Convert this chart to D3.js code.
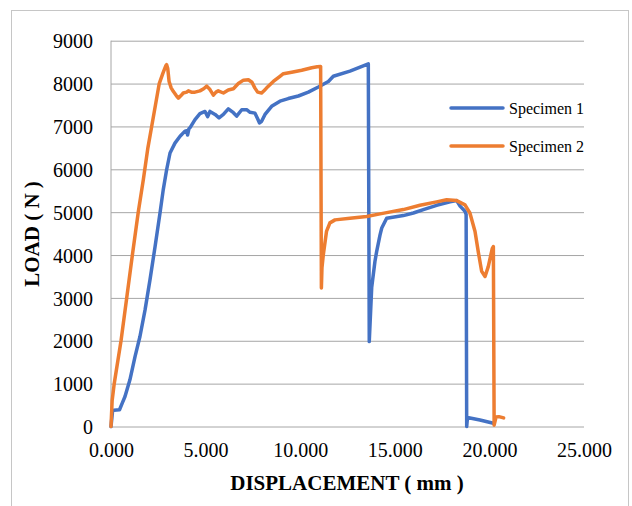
<!DOCTYPE html>
<html>
<head>
<meta charset="utf-8">
<script src="https://cdn.jsdelivr.net/npm/d3@7"></script>
<style>
  body { margin: 0; background: #fff; }
  text { font-family: "Liberation Serif", "Times New Roman", serif; fill: #000; }
</style>
</head>
<body>
<svg id="chart" width="632" height="506"></svg>
<script>
// tick values
let xTicks = [0, 5, 10, 15, 20, 25]
let yTicks = [0, 1000, 2000, 3000, 4000, 5000, 6000, 7000, 8000, 9000]

let seriesNames = ['Specimen 1', 'Specimen 2']
let seriesColors = ['#4472C4', '#ED7D31']

// Specimen 1 (blue)
let spec1Disp = [0, 0.08, 0.15, 0.45, 0.6, 0.74, 1.0, 1.27, 1.53, 1.8, 2.06, 2.33, 2.59, 2.76, 2.94, 3.12, 3.38, 3.65, 3.91, 4.0, 4.05, 4.12, 4.18, 4.44, 4.7, 4.97, 5.11, 5.23, 5.5, 5.71, 5.94, 6.2, 6.47, 6.64, 6.91, 7.17, 7.35, 7.61, 7.75, 7.85, 7.96, 8.14, 8.49, 8.93, 9.37, 9.9, 10.43, 10.96, 11.49, 11.75, 12.63, 13.6, 13.65, 13.78, 13.95, 14.04, 14.22, 14.31, 14.57, 15.45, 15.98, 16.51, 17.21, 17.92, 18.27, 18.45, 18.71, 18.77, 18.8, 18.84, 19.5, 20.21]
let spec1Load = [0, 350, 380, 390, 550, 700, 1090, 1630, 2100, 2720, 3420, 4200, 4980, 5520, 5990, 6380, 6610, 6770, 6890, 6900, 6800, 6950, 6970, 7160, 7300, 7350, 7230, 7350, 7280, 7200, 7280, 7410, 7320, 7240, 7390, 7390, 7330, 7310, 7180, 7080, 7120, 7280, 7470, 7590, 7650, 7710, 7800, 7920, 8050, 8170, 8290, 8460, 1980, 3250, 3850, 4080, 4470, 4630, 4860, 4920, 4980, 5060, 5160, 5240, 5270, 5140, 5020, 4950, 0, 210, 150, 75]

// Specimen 2 (orange)
let spec2Disp = [0, 0.06, 0.17, 0.53, 0.83, 1.13, 1.44, 1.71, 1.95, 2.15, 2.35, 2.55, 2.75, 2.9, 2.94, 3.0, 3.07, 3.18, 3.29, 3.45, 3.56, 3.7, 3.82, 4.0, 4.09, 4.25, 4.44, 4.7, 4.9, 5.06, 5.23, 5.41, 5.55, 5.67, 5.94, 6.2, 6.47, 6.73, 7.0, 7.26, 7.45, 7.6, 7.75, 7.96, 8.1, 8.23, 8.58, 8.93, 9.11, 9.55, 10.08, 10.61, 10.9, 11.08, 11.12, 11.15, 11.22, 11.39, 11.57, 11.84, 12.63, 13.51, 14.22, 14.57, 15.45, 16.33, 17.21, 17.74, 18.27, 18.71, 18.97, 19.24, 19.41, 19.59, 19.77, 19.94, 20.15, 20.21, 20.25, 20.35, 20.5, 20.75]
let spec2Load = [0, 600, 1000, 2000, 3000, 4000, 5000, 5760, 6500, 7000, 7500, 8000, 8250, 8420, 8440, 8350, 8050, 7900, 7820, 7720, 7660, 7720, 7780, 7800, 7830, 7800, 7800, 7830, 7880, 7940, 7860, 7730, 7800, 7830, 7780, 7850, 7880, 8000, 8080, 8090, 8030, 7900, 7800, 7780, 7840, 7900, 8050, 8170, 8230, 8265, 8310, 8370, 8390, 8400, 3230, 3700, 4000, 4550, 4750, 4820, 4860, 4900, 4960, 4990, 5060, 5160, 5240, 5290, 5270, 5170, 4980, 4550, 4080, 3620, 3500, 3730, 4150, 4200, 30, 220, 230, 200]

let series = [
  { name: seriesNames[0], color: seriesColors[0], pts: spec1Disp.map((d, i) => [d, spec1Load[i]]) },
  { name: seriesNames[1], color: seriesColors[1], pts: spec2Disp.map((d, i) => [d, spec2Load[i]]) }
]

// plot area
let margin = { top: 40.7, left: 111, right: 48, bottom: 79.5 },
    width = 632 - margin.left - margin.right,
    height = 506 - margin.top - margin.bottom

let svg = d3.select('svg#chart')

// outer chart border
svg.append('rect')
  .attr('x', 11.5).attr('y', 10.5)
  .attr('width', 617).attr('height', 520)
  .attr('fill', 'none')
  .attr('stroke', '#c6c6c6')
  .attr('stroke-width', 1)

let g = svg.append('g')
  .attr('transform', `translate(${margin.left}, ${margin.top})`)

let xScale = d3.scaleLinear().domain([0, 25]).range([0, width])
let yScale = d3.scaleLinear().domain([0, 9000]).range([height, 0])

// horizontal grid lines
g.append('g')
  .attr('class', 'grid')
  .call(d3.axisLeft(yScale).tickValues(yTicks).tickSize(-width).tickFormat(''))
  .call(a => a.select('.domain').remove())
  .selectAll('line')
  .attr('stroke', '#a6a6a6')
  .attr('stroke-width', 1)

// y axis line
g.append('line')
  .attr('x1', 0).attr('x2', 0)
  .attr('y1', 0).attr('y2', height)
  .attr('stroke', '#a6a6a6')

// y tick labels
g.append('g')
  .call(d3.axisLeft(yScale).tickValues(yTicks).tickSize(0).tickPadding(18).tickFormat(d3.format('d')))
  .call(a => a.select('.domain').remove())
  .selectAll('text')
  .attr('font-family', '"Liberation Serif", serif')
  .attr('font-size', 20)
  .attr('dy', '0.36em')

// x tick labels
g.append('g')
  .attr('transform', `translate(0, ${height})`)
  .call(d3.axisBottom(xScale).tickValues(xTicks).tickSize(0).tickPadding(16).tickFormat(d3.format('.3f')))
  .call(a => a.select('.domain').remove())
  .selectAll('text')
  .attr('font-family', '"Liberation Serif", serif')
  .attr('font-size', 20)

// the two load curves
let line = d3.line()
  .x(d => xScale(d[0]))
  .y(d => yScale(d[1]))

g.selectAll('path.series')
  .data(series)
  .enter()
  .append('path')
  .attr('class', 'series')
  .attr('d', d => line(d.pts))
  .attr('fill', 'none')
  .attr('stroke', d => d.color)
  .attr('stroke-width', 3.5)
  .attr('stroke-linejoin', 'round')
  .attr('stroke-linecap', 'round')

// legend
let legend = svg.selectAll('g.legend')
  .data(series)
  .enter()
  .append('g')
  .attr('class', 'legend')
  .attr('transform', (d, i) => `translate(451, ${108 + i * 38})`)

legend.append('line')
  .attr('x1', 0).attr('x2', 52)
  .attr('stroke', d => d.color)
  .attr('stroke-width', 3.5)
  .attr('stroke-linecap', 'round')

legend.append('text')
  .attr('x', 58)
  .attr('dy', '0.35em')
  .attr('font-size', 16)
  .text(d => d.name)

// axis titles
svg.append('text')
  .attr('transform', 'translate(39, 234) rotate(-90)')
  .attr('text-anchor', 'middle')
  .attr('font-size', 21)
  .attr('font-weight', 'bold')
  .text('LOAD ( N )')

svg.append('text')
  .attr('x', 347)
  .attr('y', 490)
  .attr('text-anchor', 'middle')
  .attr('font-size', 21)
  .attr('font-weight', 'bold')
  .text('DISPLACEMENT ( mm )')
</script>
</body>
</html>
